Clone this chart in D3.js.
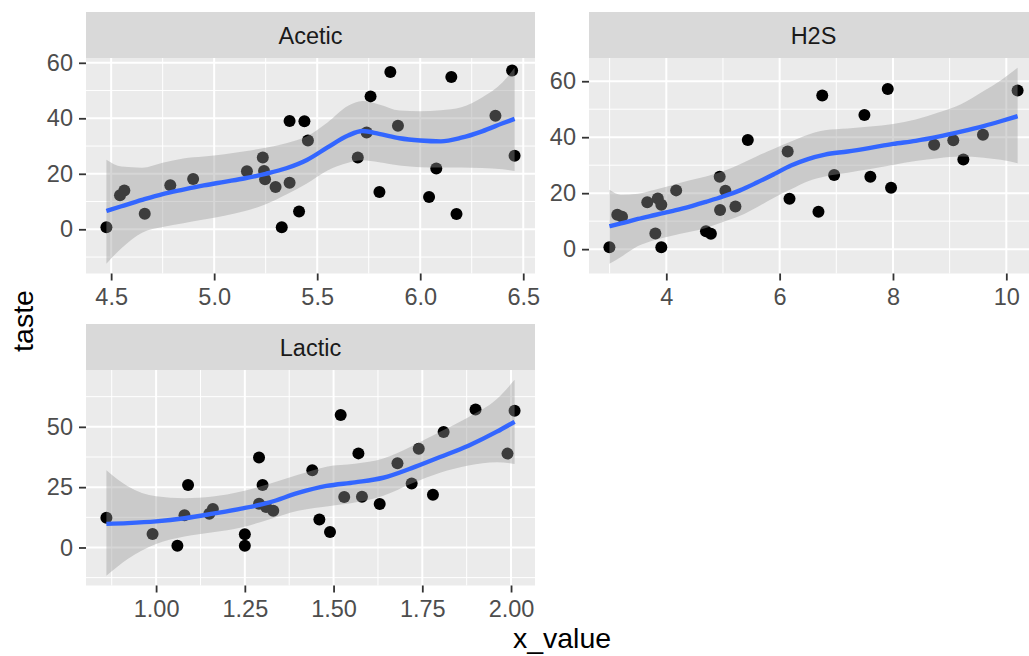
<!DOCTYPE html>
<html>
<head>
<meta charset="utf-8">
<script src="https://cdn.jsdelivr.net/npm/d3@7/dist/d3.min.js"></script>
<style>
  body { margin: 0; background: #ffffff; }
  svg { display: block; font-family: "Liberation Sans", Arial, sans-serif; }
</style>
</head>
<body>
<svg id="chart" width="1029" height="656"></svg>
<script>
// cheddar tasting data
var taste  = [12.3, 20.9, 39.0, 47.9, 5.6, 25.9, 37.3, 21.9, 18.1, 21.0, 34.9, 57.2, 0.7, 25.9, 54.9, 40.9, 15.9, 6.4, 18.0, 38.9, 14.0, 15.2, 32.0, 56.7, 16.8, 11.6, 26.5, 0.7, 13.4, 5.5]
var acetic = [4.543, 5.159, 5.366, 5.759, 4.663, 5.697, 5.892, 6.078, 4.898, 5.242, 5.740, 6.446, 4.477, 5.236, 6.151, 6.365, 4.787, 5.412, 5.247, 5.438, 4.564, 5.298, 5.455, 5.855, 5.366, 6.043, 6.458, 5.328, 5.802, 6.176]
var h2s    = [3.135, 5.043, 5.438, 7.496, 3.807, 7.601, 8.726, 7.966, 3.850, 4.174, 6.142, 7.908, 2.996, 4.942, 6.752, 9.588, 3.912, 4.700, 6.174, 9.064, 4.949, 5.220, 9.242, 10.199, 3.664, 3.219, 6.962, 3.912, 6.685, 4.787]
var lactic = [0.86, 1.53, 1.57, 1.81, 0.99, 1.09, 1.29, 1.78, 1.29, 1.58, 1.68, 1.90, 1.06, 1.30, 1.52, 1.74, 1.16, 1.49, 1.63, 1.99, 1.15, 1.33, 1.44, 2.01, 1.31, 1.46, 1.72, 1.25, 1.08, 1.25]

// smoother (loess): fit, lower and upper band
var aceticSmoothX = [4.477, 4.55, 4.65, 4.75, 4.85, 4.95, 5.05, 5.15, 5.25, 5.35, 5.45, 5.55, 5.65, 5.72, 5.80, 5.90, 6.00, 6.10, 6.20, 6.30, 6.40, 6.458]
var aceticFit     = [6.6, 8.3, 10.6, 12.7, 14.3, 15.8, 17.1, 18.4, 20.0, 22.0, 25.0, 29.5, 33.8, 35.4, 34.4, 32.8, 32.0, 31.7, 33.0, 35.3, 38.2, 39.8]
var aceticLower   = [-12.4, -6.8, -1.2, 0.8, 2.2, 3.5, 4.9, 6.6, 9.0, 12.5, 16.5, 21.2, 24.0, 24.9, 24.2, 23.0, 22.4, 22.3, 22.3, 22.1, 21.6, 21.0]
var aceticUpper   = [25.1, 22.6, 22.2, 24.0, 25.5, 26.2, 27.0, 28.1, 29.4, 31.0, 33.5, 38.5, 44.5, 46.2, 45.0, 42.8, 42.5, 42.9, 44.0, 47.5, 53.0, 58.2]

var h2sSmoothX = [2.996, 3.2, 3.5, 3.8, 4.1, 4.4, 4.7, 5.0, 5.3, 5.6, 5.9, 6.2, 6.5, 6.8, 7.2, 7.6, 8.0, 8.4, 8.8, 9.2, 9.6, 9.9, 10.199]
var h2sFit     = [8.2, 9.2, 10.8, 12.2, 13.6, 15.1, 16.9, 18.8, 21.0, 23.8, 26.8, 29.9, 32.2, 33.8, 34.9, 36.2, 37.6, 38.7, 40.2, 42.0, 44.0, 45.7, 47.5]
var h2sLower   = [-5.2, -2.8, 1.1, 3.3, 4.8, 6.1, 7.6, 9.7, 11.9, 15.0, 18.4, 21.4, 24.3, 26.0, 27.3, 28.6, 30.1, 31.5, 32.5, 33.1, 32.7, 31.9, 30.7]
var h2sUpper   = [21.2, 19.4, 19.8, 21.2, 22.8, 24.5, 26.0, 27.8, 30.3, 33.2, 35.9, 38.5, 40.9, 42.5, 43.1, 43.8, 44.7, 46.3, 48.8, 51.8, 56.5, 60.3, 64.8]

var lacticSmoothX = [0.86, 0.92, 1.00, 1.08, 1.16, 1.24, 1.32, 1.40, 1.48, 1.56, 1.64, 1.72, 1.80, 1.88, 1.96, 2.01]
var lacticFit     = [9.8, 10.1, 10.8, 12.1, 14.0, 16.1, 18.7, 22.6, 25.5, 27.0, 28.9, 32.9, 37.5, 42.2, 48.0, 52.1]
var lacticLower   = [-11.7, -4.8, 1.4, 4.5, 6.3, 8.3, 11.7, 15.2, 17.0, 18.6, 21.4, 26.5, 31.0, 34.0, 35.3, 34.6]
var lacticUpper   = [32.0, 25.4, 21.2, 20.4, 21.1, 23.2, 26.4, 30.1, 33.5, 34.7, 36.9, 42.0, 48.0, 54.0, 61.5, 69.5]

// tick values and labels
var aceticXTicks = [4.5, 5.0, 5.5, 6.0, 6.5]
var h2sXTicks = [4, 6, 8, 10]
var lacticXTicks = [1.00, 1.25, 1.50, 1.75, 2.00]
var aceticYTicks = [0, 20, 40, 60]
var h2sYTicks = [0, 20, 40, 60]
var lacticYTicks = [0, 25, 50]

var panelNames = ["Acetic", "H2S", "Lactic"]
var xTitle = "x_value"
var yTitle = "taste"

function zip(xs, ys) {
  return xs.map(function (x, i) { return { x: x, y: ys[i] } })
}

var panels = [
  { name: panelNames[0], points: zip(acetic, taste), sx: aceticSmoothX, fit: aceticFit, lo: aceticLower, hi: aceticUpper,
    xTicks: aceticXTicks, yTicks: aceticYTicks, xFormat: d3.format(".1f"), left: 86, top: 58 },
  { name: panelNames[1], points: zip(h2s, taste), sx: h2sSmoothX, fit: h2sFit, lo: h2sLower, hi: h2sUpper,
    xTicks: h2sXTicks, yTicks: h2sYTicks, xFormat: d3.format("d"), left: 589, top: 58 },
  { name: panelNames[2], points: zip(lactic, taste), sx: lacticSmoothX, fit: lacticFit, lo: lacticLower, hi: lacticUpper,
    xTicks: lacticXTicks, yTicks: lacticYTicks, xFormat: d3.format(".2f"), left: 86, top: 370 }
]

var panelW = 449
var panelH = 215.5
var stripH = 46
var tickFont = 23.5
var svg = d3.select("#chart")

function expand(values) {
  var ext = d3.extent(values)
  var pad = (ext[1] - ext[0]) * 0.05
  return [ext[0] - pad, ext[1] + pad]
}

function minorBreaks(ticks, domain) {
  var step = ticks[1] - ticks[0]
  var out = []
  for (var v = ticks[0] - step / 2; v <= ticks[ticks.length - 1] + step / 2 + 1e-9; v += step) {
    if (v >= domain[0] && v <= domain[1]) out.push(v)
  }
  return out
}

function drawPanel(p, idx) {
  var g = svg.append("g").attr("class", "panel")
  var x = d3.scaleLinear()
    .domain(expand(p.points.map(function (d) { return d.x })))
    .range([p.left, p.left + panelW])
  var y = d3.scaleLinear()
    .domain(expand(p.points.map(function (d) { return d.y }).concat(p.lo, p.hi)))
    .range([p.top + panelH, p.top])

  // strip
  g.append("rect")
    .attr("x", p.left).attr("y", p.top - stripH)
    .attr("width", panelW).attr("height", stripH)
    .attr("fill", "#d9d9d9")
  g.append("text")
    .attr("x", p.left + panelW / 2).attr("y", p.top - stripH / 2 + 8.5)
    .attr("text-anchor", "middle")
    .attr("font-size", tickFont)
    .attr("fill", "#1a1a1a")
    .text(p.name)

  // background + grid
  g.append("rect")
    .attr("x", p.left).attr("y", p.top)
    .attr("width", panelW).attr("height", panelH)
    .attr("fill", "#ebebeb")

  var grid = g.append("g").attr("stroke", "#ffffff")
  grid.selectAll(".minor-x").data(minorBreaks(p.xTicks, x.domain())).enter().append("line")
    .attr("x1", x).attr("x2", x).attr("y1", p.top).attr("y2", p.top + panelH)
    .attr("stroke-width", 1)
  grid.selectAll(".minor-y").data(minorBreaks(p.yTicks, y.domain())).enter().append("line")
    .attr("y1", y).attr("y2", y).attr("x1", p.left).attr("x2", p.left + panelW)
    .attr("stroke-width", 1)
  grid.selectAll(".major-x").data(p.xTicks).enter().append("line")
    .attr("x1", x).attr("x2", x).attr("y1", p.top).attr("y2", p.top + panelH)
    .attr("stroke-width", 2)
  grid.selectAll(".major-y").data(p.yTicks).enter().append("line")
    .attr("y1", y).attr("y2", y).attr("x1", p.left).attr("x2", p.left + panelW)
    .attr("stroke-width", 2)

  // data layers, clipped to the panel
  var clipId = "clip" + idx
  svg.append("clipPath").attr("id", clipId).append("rect")
    .attr("x", p.left).attr("y", p.top).attr("width", panelW).attr("height", panelH)
  var layer = g.append("g").attr("clip-path", "url(#" + clipId + ")")

  layer.selectAll("circle").data(p.points).enter().append("circle")
    .attr("cx", function (d) { return x(d.x) })
    .attr("cy", function (d) { return y(d.y) })
    .attr("r", 6)
    .attr("fill", "#000000")

  var band = p.sx.map(function (v, i) { return { x: v, lo: p.lo[i], hi: p.hi[i], fit: p.fit[i] } })
  var area = d3.area()
    .x(function (d) { return x(d.x) })
    .y0(function (d) { return y(d.lo) })
    .y1(function (d) { return y(d.hi) })
    .curve(d3.curveMonotoneX)
  var line = d3.line()
    .x(function (d) { return x(d.x) })
    .y(function (d) { return y(d.fit) })
    .curve(d3.curveMonotoneX)

  layer.append("path").datum(band)
    .attr("d", area)
    .attr("fill", "#999999")
    .attr("fill-opacity", 0.4)
  layer.append("path").datum(band)
    .attr("d", line)
    .attr("fill", "none")
    .attr("stroke", "#3366ff")
    .attr("stroke-width", 4.4)

  // axes
  var xAxis = g.append("g")
    .attr("transform", "translate(0," + (p.top + panelH) + ")")
    .call(d3.axisBottom(x).tickValues(p.xTicks).tickFormat(p.xFormat).tickSize(7))
  var yAxis = g.append("g")
    .attr("transform", "translate(" + p.left + ",0)")
    .call(d3.axisLeft(y).tickValues(p.yTicks).tickFormat(d3.format("d")).tickSize(7).tickPadding(6))
  ;[xAxis, yAxis].forEach(function (ax) {
    ax.select(".domain").remove()
    ax.attr("font-family", null).attr("font-size", null)
    ax.selectAll(".tick line").attr("stroke", "#333333").attr("stroke-width", 1.8)
    ax.selectAll(".tick text").attr("fill", "#4d4d4d").attr("font-size", tickFont)
  })
  xAxis.selectAll(".tick text").attr("y", 31).attr("dy", null)
}

panels.forEach(drawPanel)

// axis titles
svg.append("text")
  .attr("x", 562).attr("y", 648)
  .attr("text-anchor", "middle")
  .attr("font-size", 28.5)
  .attr("fill", "#000000")
  .text(xTitle)
svg.append("text")
  .attr("transform", "translate(33,321) rotate(-90)")
  .attr("text-anchor", "middle")
  .attr("font-size", 28.5)
  .attr("fill", "#000000")
  .text(yTitle)
</script>
</body>
</html>
